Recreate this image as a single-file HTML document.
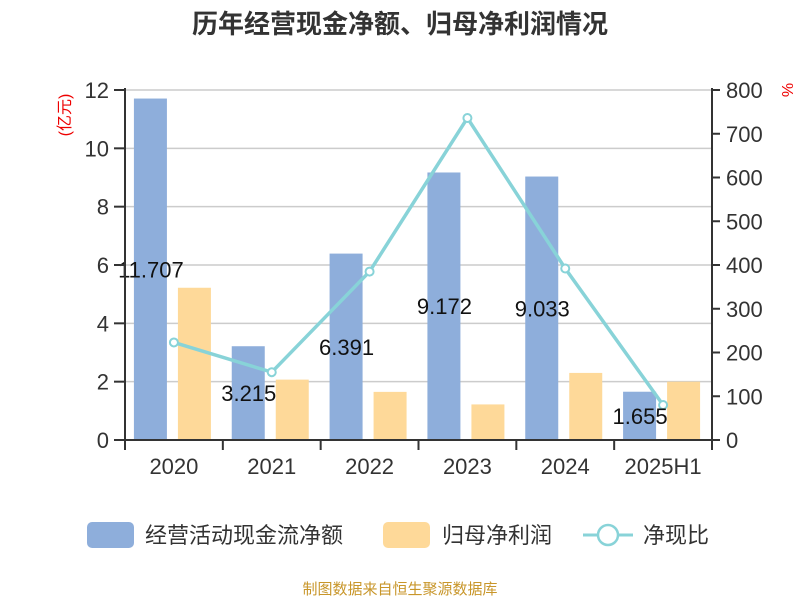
<!DOCTYPE html>
<html><head><meta charset="utf-8"><style>
body{margin:0;background:#fff;}
svg text{font-family:"Liberation Sans","Noto Sans CJK SC",sans-serif;}
</style></head><body>
<svg id="c" width="800" height="600" xmlns="http://www.w3.org/2000/svg">
<text x="400" y="33" text-anchor="middle" font-size="26" font-weight="bold" fill="#333">历年经营现金净额、归母净利润情况</text>
<text transform="translate(70,115) rotate(-90)" text-anchor="middle" font-size="16" fill="#e00">(亿元)</text>
<text transform="translate(782,90) rotate(90)" text-anchor="middle" font-size="16" fill="#e00">%</text>
<g id="grid"></g><g id="bars"></g><g id="line"></g><g id="labels"></g><g id="axes"></g>
<g>
<rect x="87" y="522" width="47" height="26" rx="5" fill="#8eaedb"/>
<text x="145" y="543" font-size="22" fill="#333">经营活动现金流净额</text>
<rect x="383" y="522" width="47" height="26" rx="5" fill="#fed999"/>
<text x="442" y="543" font-size="22" fill="#333">归母净利润</text>
<line x1="583" y1="535" x2="633" y2="535" stroke="#88d3d8" stroke-width="3"/>
<circle cx="608" cy="535" r="10" fill="#fff" stroke="#88d3d8" stroke-width="2.5"/>
<text x="643" y="543" font-size="22" fill="#333">净现比</text>
</g>
<text x="400" y="594" text-anchor="middle" font-size="15" fill="#c8962a">制图数据来自恒生聚源数据库</text>
</svg>
<script>
const categories=["2020","2021","2022","2023","2024","2025H1"];
const cashFlow=[11.707,3.215,6.391,9.172,9.033,1.655];
const netProfit=[5.22,2.07,1.65,1.22,2.3,2.0];
const ratio=[223,155,385,736,392,80];
const leftTicks=[0,2,4,6,8,10,12];
const rightTicks=[0,100,200,300,400,500,600,700,800];
const NS="http://www.w3.org/2000/svg";
const X0=125,X1=712,Y0=440,Y1=90;
const bw=(X1-X0)/categories.length;
const yL=v=>Y0-(v/12)*(Y0-Y1);
const yR=v=>Y0-(v/800)*(Y0-Y1);
const cx=i=>X0+bw*(i+0.5);
function mk(tag,attrs,parent,txt){const e=document.createElementNS(NS,tag);for(const k in attrs)e.setAttribute(k,attrs[k]);if(txt!==undefined)e.textContent=txt;document.getElementById(parent).appendChild(e);return e;}
leftTicks.forEach(t=>{
 if(t>0){const g=mk('line',{x1:X0,x2:X1,y1:yL(t),y2:yL(t),stroke:'#ccc','stroke-width':1.5},'grid');
 
 }
 const tk=mk('line',{x1:X0-11,x2:X0,y1:yL(t),y2:yL(t),stroke:'#333','stroke-width':2},'axes');
 
 
 const l=mk('text',{x:X0-16,y:yL(t)+8,'text-anchor':'end','font-size':22,fill:'#333'},'axes',String(t));
 
 
});
rightTicks.forEach(t=>{
 const tk=mk('line',{x1:X1,x2:X1+8,y1:yR(t),y2:yR(t),stroke:'#333','stroke-width':2},'axes');
 
 
 const l=mk('text',{x:X1+14,y:yR(t)+8,'font-size':22,fill:'#333'},'axes',String(t));
 
 
});
let a=mk('line',{x1:X0,x2:X0,y1:Y1-2,y2:Y0,stroke:'#333','stroke-width':2},'axes');


a=mk('line',{x1:X1,x2:X1,y1:Y1-2,y2:Y0,stroke:'#333','stroke-width':2},'axes');


a=mk('line',{x1:X0,x2:X1,y1:Y0,y2:Y0,stroke:'#333','stroke-width':2},'axes');


for(let i=0;i<=categories.length;i++){
 const t=mk('line',{x1:X0+bw*i,x2:X0+bw*i,y1:Y0,y2:Y0+10,stroke:'#333','stroke-width':2},'axes');
 
 
}
categories.forEach((c,i)=>{
 const l=mk('text',{x:cx(i),y:Y0+34,'text-anchor':'middle','font-size':22,fill:'#333'},'axes',c);
 
 
 const b1=mk('rect',{x:cx(i)-40,y:yL(cashFlow[i]),width:33,height:Y0-yL(cashFlow[i]),fill:'#8eaedb'},'bars');
 
 
 const b2=mk('rect',{x:cx(i)+4,y:yL(netProfit[i]),width:33,height:Y0-yL(netProfit[i]),fill:'#fed999'},'bars');
 
 
 const v=mk('text',{x:cx(i)-23,y:yL(cashFlow[i]/2)+8,'text-anchor':'middle','font-size':22,fill:'#111'},'labels',String(cashFlow[i]));
 
 
});
const pts=ratio.map((r,i)=>cx(i)+','+yR(r)).join(' ');
const pl=mk('polyline',{points:pts,fill:'none',stroke:'#88d3d8','stroke-width':3.5},'line');


ratio.forEach((r,i)=>{
 const p=mk('circle',{cx:cx(i),cy:yR(r),r:4,fill:'#fff',stroke:'#88d3d8','stroke-width':2},'line');
 
 
});
</script>
</body></html>
